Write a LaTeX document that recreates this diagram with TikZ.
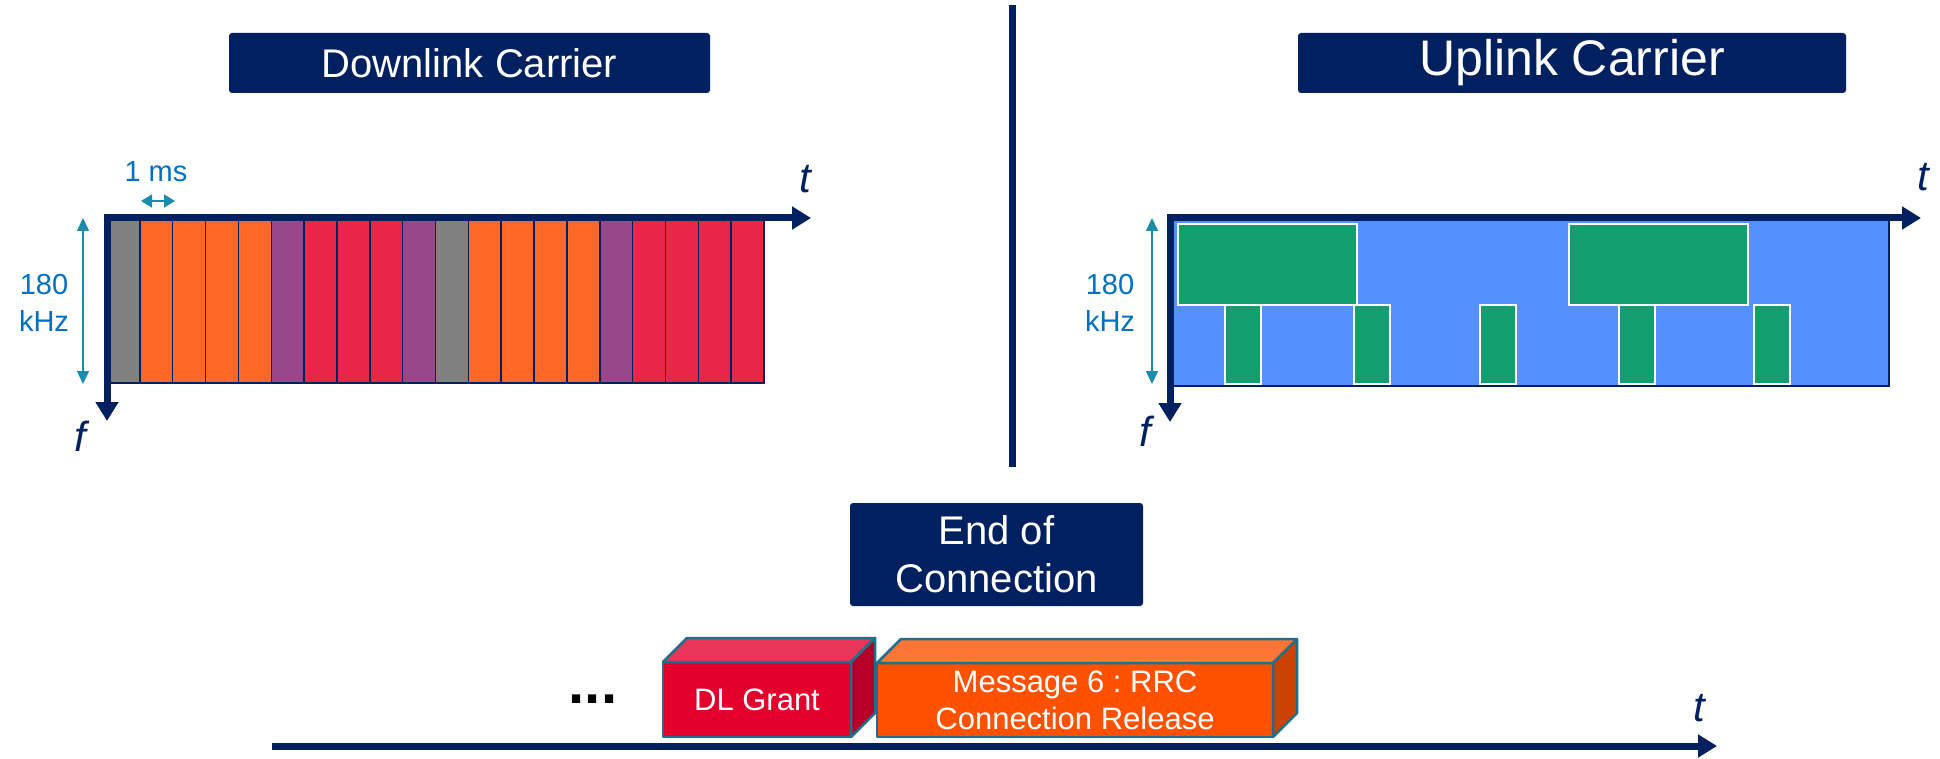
\documentclass[tikz,border=0pt]{standalone}
\usepackage{fontspec}
\setmainfont{Liberation Sans}
\usetikzlibrary{arrows.meta}
\frenchspacing

% palette
\definecolor{navy}{HTML}{002060}
\definecolor{labelblue}{HTML}{0070C0}
\definecolor{tealarrow}{HTML}{1A8CAE}
\definecolor{slotgray}{HTML}{808080}
\definecolor{slotorange}{HTML}{FF6724}
\definecolor{slotpurple}{HTML}{96488A}
\definecolor{slotred}{HTML}{E7264A}
\definecolor{ulblue}{HTML}{5590FF}
\definecolor{ulgreen}{HTML}{129E6E}
\definecolor{edgeteal}{HTML}{1F6E8C}
\definecolor{dlfront}{HTML}{E3002C}
\definecolor{dltop}{HTML}{E93558}
\definecolor{dlside}{HTML}{B60029}
\definecolor{msgfront}{HTML}{FF5100}
\definecolor{msgtop}{HTML}{FF7534}
\definecolor{msgside}{HTML}{CC4200}

\begin{document}
\begin{tikzpicture}[x=1pt,y=-1pt,
  titlebox/.style={fill=navy, rounded corners=3pt, text=white,
    font=\fontsize{40}{48}\selectfont, inner sep=0pt, align=center},
  axisarrow/.style={draw=navy, line width=7pt, line cap=rect,
    -{Triangle[length=19pt,width=22pt]}},
  axislabel/.style={text=navy, font=\fontsize{42}{42}\selectfont\itshape, inner sep=0pt},
  bwlabel/.style={text=labelblue, font=\fontsize{29}{37}\selectfont, align=center, inner sep=0pt},
  bwarrow/.style={draw=tealarrow, line width=1.5pt,
    {Triangle[length=13pt,width=12pt]}-{Triangle[length=13pt,width=12pt]}},
  slotbar/.style={draw=navy, line width=1.5pt},
  ulgrant/.style={fill=ulgreen, draw=white, line width=2pt},
  face/.style={draw=edgeteal, line width=2.5pt, line join=round},
  frontface/.style={face, text=white, font=\fontsize{31}{37}\selectfont,
    align=center, inner sep=0pt, outer sep=0pt},
]
\useasboundingbox (0,0) rectangle (1940,759);
\fill[white] (0,0) rectangle (1940,759);

% ---------- headers and divider ----------
\node[titlebox, minimum width=481pt, minimum height=60pt] (dltitle) at (469.5,63) {Downlink Carrier};
\node[titlebox, minimum width=548pt, minimum height=60pt,
  font=\fontsize{50}{58}\selectfont] (ultitle) at (1572,63) {Uplink Carrier};
\coordinate (divtop) at (1012.5,5);
\coordinate (divbot) at (1012.5,467);
\draw[navy, line width=7pt] (divtop) -- (divbot);

% ---------- downlink carrier: 20 subframes of 1 ms ----------
\foreach \c [count=\i from 0] in {slotgray,slotorange,slotorange,slotorange,slotorange,
    slotpurple,slotred,slotred,slotred,slotpurple,slotgray,slotorange,slotorange,
    slotorange,slotorange,slotpurple,slotred,slotred,slotred,slotred}
  \path[slotbar, fill=\c] ({107+32.85*\i},219) rectangle ({107+32.85*(\i+1)},383);

\coordinate (dlorigin) at (107,218);
\coordinate (dltend) at (811,218);
\coordinate (dlfend) at (107,421);
\draw[axisarrow] (dlorigin) -- (dltend);
\draw[axisarrow] (dlorigin) -- (dlfend);
\node[axislabel] (dlt) at (805,179) {t};
\node[axislabel] (dlf) at (80,436) {f};

\coordinate (dlbwtop) at (83,218);
\coordinate (dlbwbot) at (83,384);
\draw[bwarrow] (dlbwtop) -- (dlbwbot);
\node[bwlabel] (dlbw) at (44,303) {180\\kHz};

\coordinate (msleft) at (141,201);
\coordinate (msright) at (175,201);
\draw[draw=tealarrow, line width=2pt,
  {Triangle[length=11pt,width=13pt]}-{Triangle[length=11pt,width=13pt]}] (msleft) -- (msright);
\node[bwlabel] (mslabel) at (156,172) {1 ms};

% ---------- uplink carrier ----------
\path[fill=ulblue, draw=navy, line width=2pt] (1171,219) rectangle (1889,386);
\path[ulgrant] (1178,224) rectangle (1357,305);
\path[ulgrant] (1569,224) rectangle (1748,305);
\foreach \x in {1225,1354,1480,1619,1754}
  \path[ulgrant] (\x,305) rectangle ({\x+36},384);

\coordinate (ulorigin) at (1170,218);
\coordinate (ultend) at (1921,218);
\coordinate (ulfend) at (1170,422);
\draw[axisarrow] (ulorigin) -- (ultend);
\draw[axisarrow] (ulorigin) -- (ulfend);
\node[axislabel] (ult) at (1923,177) {t};
\node[axislabel] (ulf) at (1145,431) {f};

\coordinate (ulbwtop) at (1152,218);
\coordinate (ulbwbot) at (1152,384);
\draw[bwarrow] (ulbwtop) -- (ulbwbot);
\node[bwlabel] (ulbw) at (1110,303) {180\\kHz};

% ---------- end of connection ----------
\node[titlebox, minimum width=293pt, minimum height=103pt] (eoc) at (996.5,554.5) {End of\\Connection};

\node[frontface, fill=dlfront, minimum width=188pt, minimum height=75pt] (dlgrant) at (757,699.5) {DL Grant};
\filldraw[face, fill=dltop] (dlgrant.north west) -- ++(24,-24)
  -- ([shift={(24,-24)}]dlgrant.north east) -- (dlgrant.north east) -- cycle;
\filldraw[face, fill=dlside] (dlgrant.north east) -- ++(24,-24)
  -- ([shift={(24,-24)}]dlgrant.south east) -- (dlgrant.south east) -- cycle;

\node[frontface, fill=msgfront, minimum width=396pt, minimum height=74pt] (rrc) at (1075,700)
  {Message 6 : RRC\\Connection Release};
\filldraw[face, fill=msgtop] (rrc.north west) -- ++(24,-24)
  -- ([shift={(24,-24)}]rrc.north east) -- (rrc.north east) -- cycle;
\filldraw[face, fill=msgside] (rrc.north east) -- ++(24,-24)
  -- ([shift={(24,-24)}]rrc.south east) -- (rrc.south east) -- cycle;

\node[font=\fontsize{58}{58}\selectfont\bfseries, inner sep=0pt] (dots) at (593,699) {...};

\coordinate (tlstart) at (272,746);
\coordinate (tlend) at (1717,746);
\draw[axisarrow, line cap=butt] (tlstart) -- (tlend);
\node[axislabel] (tlt) at (1699,708) {t};
\end{tikzpicture}
\end{document}
